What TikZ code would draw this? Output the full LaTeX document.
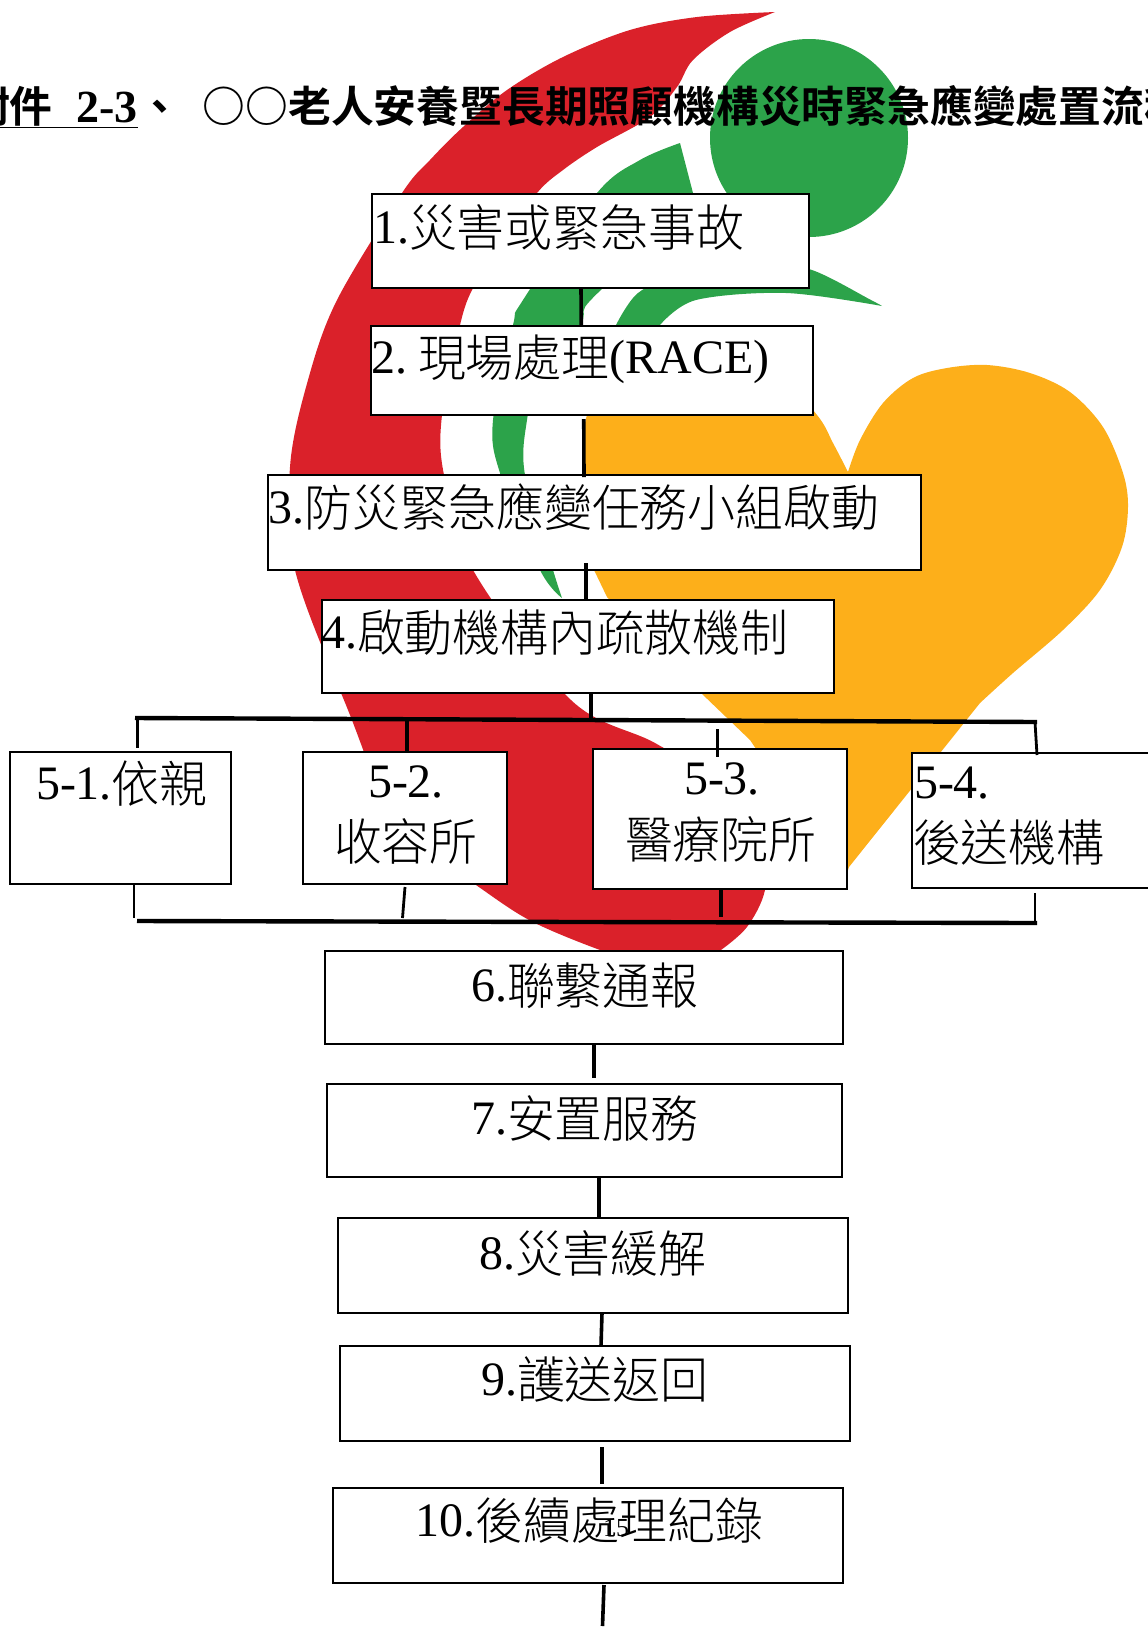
\documentclass[tikz,border=0pt]{standalone}
\usepackage{fontspec}
\setmainfont{Liberation Serif}
\newfontfamily\cjk{Noto Sans CJK TC Light}[Scale=1.04, FakeStretch=0.96]
\newfontfamily\cjktitle{Noto Sans CJK TC}[BoldFont={* Bold}]
\newcommand{\zh}[1]{\raisebox{-3pt}{\cjk #1}}
\usetikzlibrary{calc}
\usetikzlibrary{positioning}
\definecolor{logored}{RGB}{218, 33, 42}
\definecolor{logogreen}{RGB}{44, 163, 74}
\definecolor{logoorange}{RGB}{253, 175, 26}
\tikzset{
  boxnode/.style={draw=black, line width=2pt, fill=white, inner sep=0, outer sep=0},
  boxtext/.style={anchor=base west, inner sep=0, outer sep=0, font=\fontsize{48}{48}\selectfont},
  titletext/.style={inner sep=0, outer sep=0, font=\fontsize{42.8}{43}\selectfont\cjktitle\bfseries},
  link/.style={draw=black, line width=3.6pt},
  bus/.style={draw=black, line width=4.4pt},
  thinlink/.style={draw=black, line width=2.8pt},
  curve/.style={smooth, tension=0.55}
}
\begin{document}
\begin{tikzpicture}[x=1pt, y=-1pt]
      \useasboundingbox (0,0) rectangle (1148,1631);
      \clip (0,0) rectangle (1148,1631);

      % logo
      \fill [logoorange] plot [curve] coordinates {(848,472) (860,440) (883,403) (913,378) (947,368)
          (987,365) (1030,373) (1070,392) (1103,427) (1123,473) (1128,507) (1122,547) (1100,590)
          (1063,630) (1013,673) (980,703)}
        -- (849,867) -- (845,880) -- (750,740) -- (701,693) -- (607,597)
        -- plot [curve] coordinates {(594,570) (585,475) (587,415) (620,360) (700,340) (770,365) (817,415) (833,443) (848,472)}
        -- cycle;
      \fill [logored] plot [curve] coordinates {(775,12) (697,17) (630,30) (563,57) (507,90) (463,127)
          (430,160) (402,193) (337,300) (308,380) (290,467) (295,570) (348,710) (400,830) (476,885)
          (531,921) (600,950) (650,965)}
        -- plot [curve] coordinates {(721,950) (747,927) (765,890) (765,840) (730,790) (655,743) (571,700)
          (473,570) (444,475) (442,415) (460,325) (473,288) (500,245) (537,193) (563,170) (597,147) (650,117)
          (677,87) (693,60) (730,32) (775,12)}
        -- cycle;
      \fill [logogreen] (809,138) circle [radius=99];
      \fill [logogreen] plot [curve] coordinates {(680,143) (640,160) (597,193) (523,300) (513,325)
          (493,420) (500,473) (540,570) (562,598)}
        -- plot [curve] coordinates {(562,598) (553,570) (525,475) (527,420) (540,370) (580,325) (585,307) (603,288)}
        -- (693,193) -- cycle;
      \fill [logogreen] plot [curve] coordinates {(882,306) (871,300) (812,270) (760,262) (680,275) (638,293) (616,325)}
        -- plot [curve] coordinates {(660,325) (696,300) (786,293) (882,306)}
        -- cycle;

      % title
      \node [titletext, anchor=base east] (titleleft) at (138,122)
        {\underline{附件\hspace{24pt}{\rmfamily\fontsize{46}{46}\selectfont 2-3}}};
      \node [titletext, anchor=base west] (titleright) at (138,122)
        {、\hspace{22pt}○○老人安養暨長期照顧機構災時緊急應變處置流程};

      % boxes
      \node [boxnode, minimum width=437pt, minimum height=94pt] (box1) at (590.5,241) {};
      \node [boxnode, minimum width=442pt, minimum height=89pt] (box2) at (591.75,370.5) {};
      \node [boxnode, minimum width=653pt, minimum height=95pt] (box3) at (594.5,522.5) {};
      \node [boxnode, minimum width=512pt, minimum height=93pt] (box4) at (577.5,646.5) {};
      \node [boxnode, minimum width=221pt, minimum height=132pt] (box51) at (120,818) {};
      \node [boxnode, minimum width=204pt, minimum height=132pt] (box52) at (404.5,818) {};
      \node [boxnode, minimum width=254pt, minimum height=140pt] (box53) at (720,819) {};
      \node [boxnode, minimum width=260pt, minimum height=135pt] (box54) at (1041.5,820.5) {};
      \node [boxnode, minimum width=518pt, minimum height=93pt] (box6) at (584,997) {};
      \node [boxnode, minimum width=515pt, minimum height=93pt] (box7) at (584,1130.5) {};
      \node [boxnode, minimum width=510pt, minimum height=95pt] (box8) at (592.5,1265.5) {};
      \node [boxnode, minimum width=510pt, minimum height=95pt] (box9) at (594.5,1393.5) {};
      \node [boxnode, minimum width=510pt, minimum height=95pt] (box10) at (588,1535.5) {};

      % box texts
      \node [boxtext] (text1) at (373,243) {1.\zh{災害或緊急事故}};
      \node [boxtext] (text2) at (371,373) {2.\hspace{11pt}\zh{現場處理}(RACE)};
      \node [boxtext] (text3) at (268.5,523) {3.\zh{防災緊急應變任務小組啟動}};
      \node [boxtext] (text4) at (321,648) {4.\zh{啟動機構內疏散機制}};
      \node [boxtext] (text51) at (36,799) {5-1.\zh{依親}};
      \node [boxtext] (text52a) at (368,797) {5-2.};
      \node [boxtext] (text52b) at (334,857) {\zh{收容所}};
      \node [boxtext] (text53a) at (684,794) {5-3.};
      \node [boxtext] (text53b) at (625,855) {\zh{醫療院所}};
      \node [boxtext] (text54a) at (914,798) {5-4.};
      \node [boxtext] (text54b) at (913,858) {\zh{後送機構}};
      \node [boxtext] (text6) at (471,1001) {6.\zh{聯繫通報}};
      \node [boxtext] (text7) at (471,1134) {7.\zh{安置服務}};
      \node [boxtext] (text8) at (479,1269) {8.\zh{災害緩解}};
      \node [boxtext] (text9) at (481,1395) {9.\zh{護送返回}};
      \node [boxtext] (text10) at (415.5,1536) {10.\zh{後續處理紀錄}};
      \node [anchor=base west, inner sep=0, outer sep=0, font=\fontsize{26}{26}\selectfont] (pagenum) at (603,1536) {15};

      % buses
      \coordinate (topleft) at (135,718);
      \coordinate (topright) at (1037,722);
      \coordinate (botleft) at (137,921);
      \coordinate (botright) at (1037,923);
      \draw [bus] (topleft) -- (topright);
      \draw [bus] (botleft) -- (botright);

      % connectors
      \draw [link] ([xshift=-9.5pt]box1.south) -- ([xshift=-10.5pt]box2.north);
      \draw [link] ([xshift=-8pt,yshift=-4pt]box2.south) -- ([xshift=-10.5pt,yshift=-2pt]box3.north);
      \draw [link] ([xshift=-8.5pt,yshift=7pt]box3.south) -- ([xshift=8.5pt]box4.north);
      \draw [link] ([xshift=13.5pt]box4.south) -- ([xshift=13.5pt]box4.south |- topright);
      \draw [thinlink] ([xshift=17.5pt,yshift=36pt]box51.north) -- ([xshift=17.5pt,yshift=4pt]box51.north);
      \draw [link] ([xshift=2.5pt,yshift=32pt]box52.north) -- ([xshift=2.5pt]box52.north);
      \draw [thinlink] ([xshift=-2.5pt,yshift=20pt]box53.north) -- ([xshift=-2.5pt,yshift=-8pt]box53.north);
      \draw [thinlink] (topright) ++(-2,0) -- ([xshift=-4.5pt,yshift=-2pt]box54.north);
      \draw [thinlink] ([xshift=14pt,yshift=-1pt]box51.south) -- ([xshift=14pt,yshift=-34pt]box51.south);
      \draw [thinlink] ([xshift=0.5pt,yshift=-3pt]box52.south) -- ([xshift=-2pt,yshift=-34pt]box52.south);
      \draw [link] ([xshift=1pt]box53.south) -- ([xshift=1pt,yshift=-28pt]box53.south);
      \draw [thinlink] ([xshift=-6.5pt,yshift=-5pt]box54.south) -- ([xshift=-6.5pt,yshift=-34pt]box54.south);
      \draw [link] ([xshift=10pt]box6.south) -- ([xshift=10pt,yshift=6pt]box7.north);
      \draw [link] ([xshift=15pt]box7.south) -- ([xshift=6.5pt]box8.north);
      \draw [link] ([xshift=9.5pt]box8.south) -- ([xshift=6.5pt]box9.north);
      \draw [link] ([xshift=7.5pt,yshift=-6pt]box9.south) -- ([xshift=14pt,yshift=4pt]box10.north);
      \coordinate (endpoint) at (602.5,1626);
      \draw [link] ([xshift=16pt,yshift=-2pt]box10.south) -- (endpoint);
    \end{tikzpicture}
\end{document}
